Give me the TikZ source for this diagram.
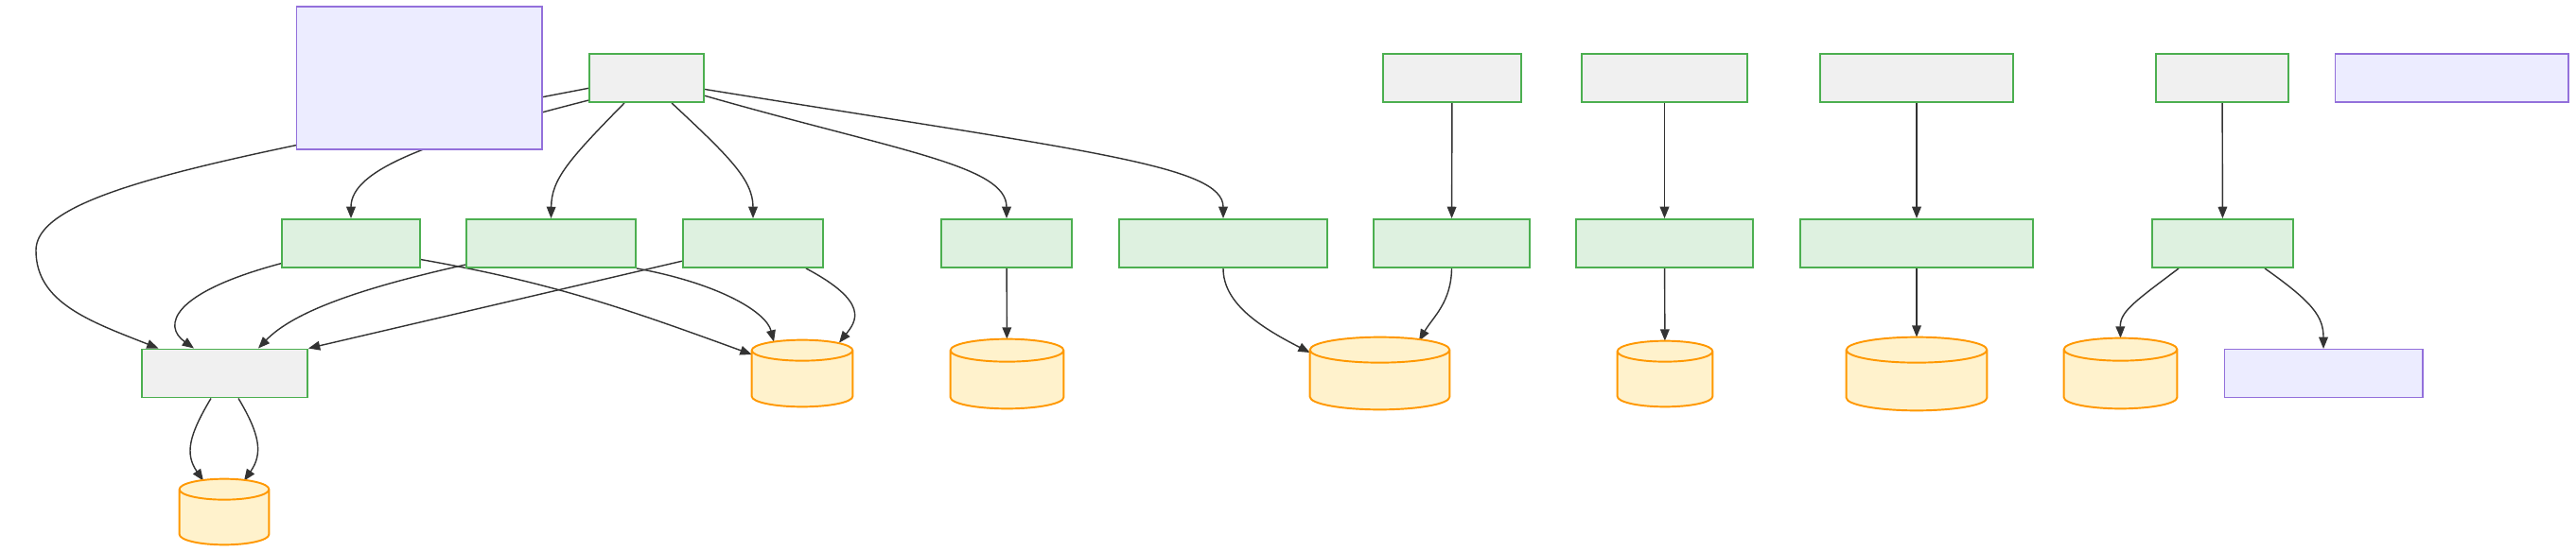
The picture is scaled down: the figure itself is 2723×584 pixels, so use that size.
\documentclass[tikz,border=0pt]{standalone}
\usepackage{tikz}
\usetikzlibrary{shapes,arrows,arrows.meta,positioning,calc}
\definecolor{boxgreen}{HTML}{4CAF50}
\definecolor{boxgray}{HTML}{F0F0F0}
\definecolor{boxmint}{HTML}{DEF1E0}
\definecolor{notefill}{HTML}{ECECFF}
\definecolor{noteline}{HTML}{9370DB}
\definecolor{dbline}{HTML}{FF9800}
\definecolor{dbfill}{HTML}{FFF2CC}
\definecolor{edgegray}{HTML}{333333}
\pgfdeclarelayer{background}
\pgfsetlayers{background,main}
% store drum drawn over a named slot: #1 node, #2 ellipse y radius
\newcommand{\drawstore}[2]{%
    \draw[dbline, fill=dbfill, line width=1.1pt]
        let \p1=(#1.north west), \p2=(#1.south east), \n1={(\x2-\x1)/2} in
        (\x1,\y1-#2) -- (\x1,\y2+#2) arc[start angle=180, end angle=360, x radius=\n1, y radius=#2]
        -- (\x2,\y1-#2) arc[start angle=0, end angle=180, x radius=\n1, y radius=#2] -- cycle
        (\x1,\y1-#2) arc[start angle=180, end angle=360, x radius=\n1, y radius=#2];
}

\begin{document}
\begin{tikzpicture}[
        x=0.02cm, y=0.02cm,
        graybox/.style={rectangle, draw=boxgreen, fill=boxgray, line width=1.1pt, inner sep=0pt, minimum height=1.02cm},
        greenbox/.style={rectangle, draw=boxgreen, fill=boxmint, line width=1.1pt, inner sep=0pt, minimum height=1.02cm},
        notebox/.style={rectangle, draw=noteline, fill=notefill, line width=0.6pt, inner sep=0pt, minimum height=1.02cm},
        dbslot/.style={rectangle, inner sep=0pt},
        arrow/.style={draw=edgegray, line width=0.8pt, ->, >={Stealth[inset=0pt, length=7pt, width=5.5pt]}}
    ]
        \useasboundingbox (0,0) rectangle (2723,-584);

        % Top row
        \node[notebox, minimum width=5.2cm, minimum height=3.02cm] (note1) at (443,-82.5) {};
        \node[graybox, minimum width=2.42cm] (hub) at (683.5,-82.5) {};
        \node[graybox, minimum width=2.92cm] (src2) at (1535,-82.5) {};
        \node[graybox, minimum width=3.5cm] (src3) at (1759.5,-82.5) {};
        \node[graybox, minimum width=4.08cm] (src4) at (2026,-82.5) {};
        \node[graybox, minimum width=2.8cm] (src5) at (2349,-82.5) {};
        \node[notebox, minimum width=4.94cm] (note2) at (2591.5,-82.5) {};

        % Middle row
        \node[greenbox, minimum width=2.92cm] (mid1) at (371,-257.5) {};
        \node[greenbox, minimum width=3.58cm] (mid2) at (582.5,-257.5) {};
        \node[greenbox, minimum width=2.96cm] (mid3) at (796,-257.5) {};
        \node[greenbox, minimum width=2.76cm] (mid4) at (1064,-257.5) {};
        \node[greenbox, minimum width=4.4cm] (mid5) at (1293,-257.5) {};
        \node[greenbox, minimum width=3.3cm] (mid6) at (1534.5,-257.5) {};
        \node[greenbox, minimum width=3.74cm] (mid7) at (1759.5,-257.5) {};
        \node[greenbox, minimum width=4.92cm] (mid8) at (2026,-257.5) {};
        \node[greenbox, minimum width=2.98cm] (mid9) at (2349.5,-257.5) {};

        % Bottom row
        \node[graybox, minimum width=3.5cm] (core) at (237.5,-395) {};
        \node[notebox, minimum width=4.2cm] (note3) at (2456,-395) {};

        % Stores
        \node[dbslot, minimum width=1.88cm, minimum height=1.38cm] (db1) at (237,-541.5) {};
        \node[dbslot, minimum width=2.12cm, minimum height=1.4cm] (db2) at (848,-395) {};
        \node[dbslot, minimum width=2.38cm, minimum height=1.46cm] (db3) at (1064.5,-395.5) {};
        \node[dbslot, minimum width=2.94cm, minimum height=1.52cm] (db4) at (1458.5,-395) {};
        \node[dbslot, minimum width=2cm, minimum height=1.38cm] (db5) at (1760,-395.5) {};
        \node[dbslot, minimum width=2.96cm, minimum height=1.54cm] (db6) at (2026,-395.5) {};
        \node[dbslot, minimum width=2.38cm, minimum height=1.48cm] (db7) at (2241.5,-395) {};
        \drawstore{db1}{0.22cm}
        \drawstore{db2}{0.22cm}
        \drawstore{db3}{0.24cm}
        \drawstore{db4}{0.27cm}
        \drawstore{db5}{0.22cm}
        \drawstore{db6}{0.27cm}
        \drawstore{db7}{0.24cm}

        % Connections
        \begin{pgfonlayer}{background}
        \draw[arrow] (hub.190) .. controls (250,-165) and (38,-200) .. (38,-265)
            .. controls (38,-320) and (95,-340) .. ([xshift=-1.4cm]core.north);
        \draw[arrow] (hub.201) .. controls (450,-150) and (371,-180) .. (mid1.north);
        \draw[arrow] ([xshift=-0.47cm]hub.south) .. controls (600,-170) and (583,-190) .. (mid2.north);
        \draw[arrow] ([xshift=0.53cm]hub.south) .. controls (770,-165) and (796,-190) .. (mid3.north);
        \draw[arrow] (hub.-17) .. controls (950,-160) and (1064,-175) .. (mid4.north);
        \draw[arrow] (hub.-11) .. controls (1150,-160) and (1293,-175) .. (mid5.north);

        \draw[arrow] (mid1.196) .. controls (180,-310) and (172,-345) .. ([xshift=-0.65cm]core.north);
        \draw[arrow] (mid2.194) .. controls (380,-305) and (310,-330) .. ([xshift=0.71cm]core.north);
        \draw[arrow] (mid3.194) -- (core.north east);
        \draw[arrow] (mid1.-13) to[out=-10, in=160] ([yshift=0.4cm]db2.west);
        \draw[arrow] (mid2.south east) .. controls (760,-300) and (810,-330) .. ([xshift=-0.6cm, yshift=-0.04cm]db2.north);
        \draw[arrow] ([xshift=1.12cm]mid3.south) .. controls (920,-320) and (905,-340) .. ([xshift=0.78cm, yshift=-0.06cm]db2.north);
        \draw[arrow] (mid4) -- (db3);
        \draw[arrow] (mid5.south) .. controls (1293,-320) and (1330,-345) .. ([yshift=0.44cm]db4.west);
        \draw[arrow] (mid6.south) .. controls (1534,-320) and (1515,-335) .. ([xshift=0.83cm, yshift=-0.08cm]db4.north);

        \draw[arrow] (src2) -- (mid6);
        \draw[arrow] (src3) -- (mid7);
        \draw[arrow] (src4) -- (mid8);
        \draw[arrow] (src5) -- (mid9);
        \draw[arrow] (mid7) -- (db5);
        \draw[arrow] (mid8) -- (db6);
        \draw[arrow] ([xshift=-0.93cm]mid9.south) .. controls (2255,-320) and (2241,-330) .. (db7.north);
        \draw[arrow] ([xshift=0.89cm]mid9.south) .. controls (2445,-320) and (2456,-335) .. (note3.north);

        \draw[arrow] ([xshift=-0.29cm]core.south) .. controls (200,-460) and (195,-480) .. ([xshift=-0.44cm, yshift=-0.04cm]db1.north);
        \draw[arrow] ([xshift=0.29cm]core.south) .. controls (275,-460) and (278,-480) .. ([xshift=0.42cm, yshift=-0.04cm]db1.north);
        \end{pgfonlayer}
    \end{tikzpicture}
\end{document}
